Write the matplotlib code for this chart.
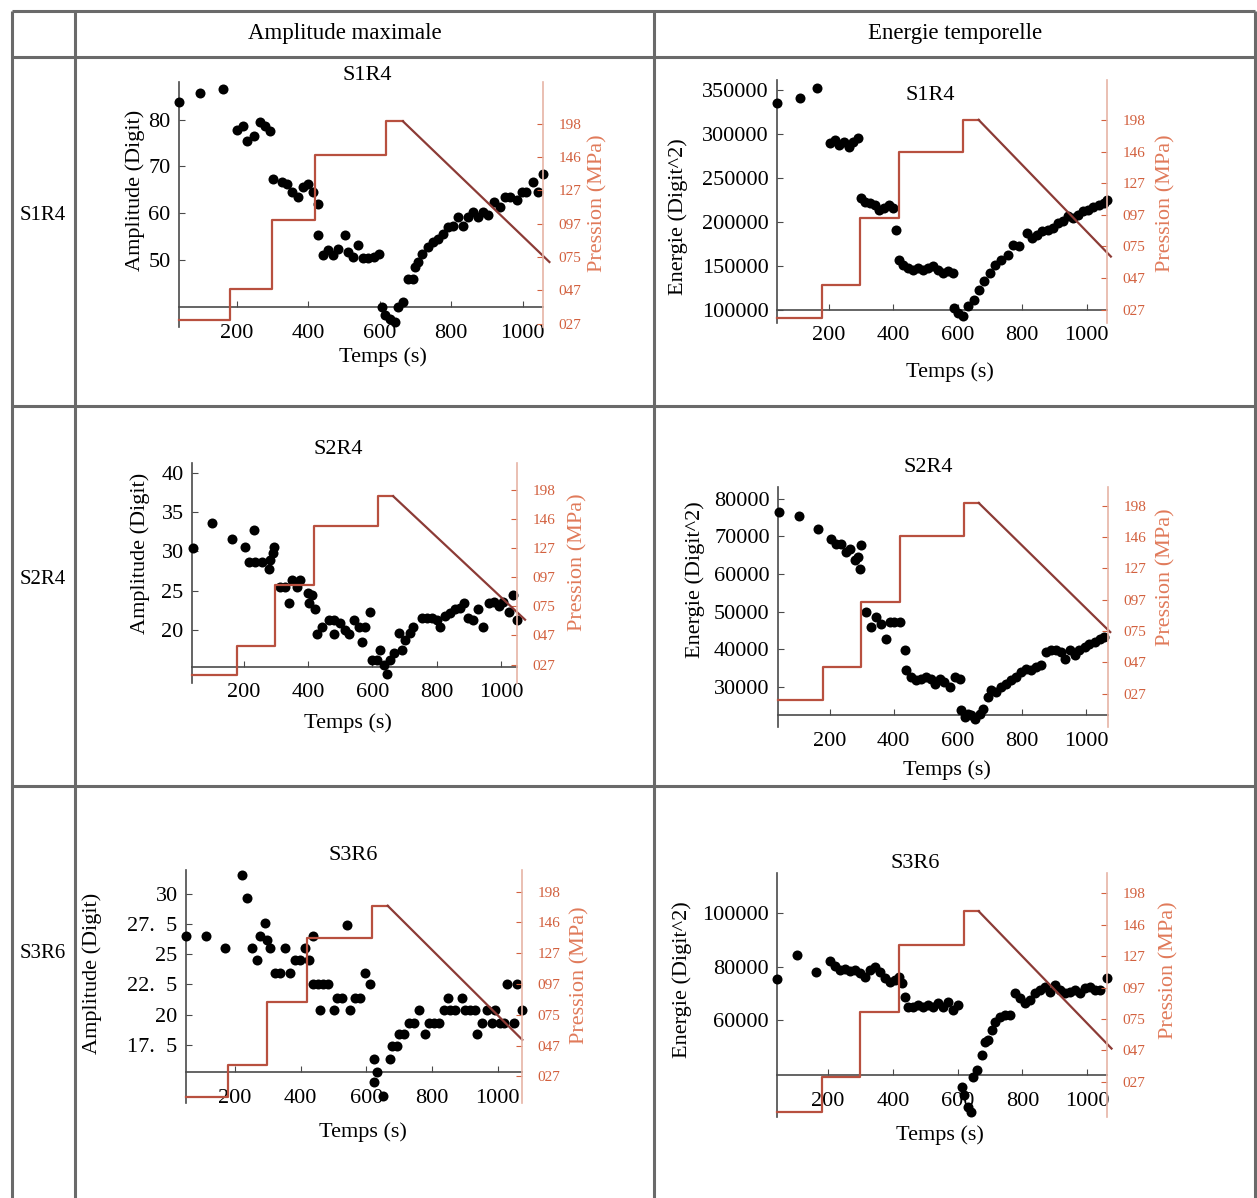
import matplotlib
matplotlib.use("Agg")
import matplotlib.pyplot as plt

plt.rcParams['font.family'] = ['Liberation Serif', 'DejaVu Serif']

W, H = 1257, 1198

# ---- data ----
PRESSURE_LABELS = ['027', '047', '075', '097', '127', '146', '198']
# time of the pressure steps (s), same loading for every test
PRESSURE_T = [40, 180, 180, 297, 297, 418, 418, 618, 618, 665, 1075]

# S1R4 - amplitude
S1R4_AMP_T = [38, 96, 160, 199, 218, 227, 248, 264, 278, 294, 302, 325, 339, 353, 370, 384,
              400, 413, 427, 427, 440, 455, 469, 483, 502, 511, 525, 539, 553, 567, 583, 597,
              605, 614, 628, 642, 651, 665, 679, 694, 698, 707, 719, 735, 749, 763, 777, 791,
              805, 819, 833, 847, 861, 875, 889, 903, 921, 936, 950, 964, 983, 997, 1010, 1029,
              1043, 1057]
S1R4_AMP = [83.7, 85.7, 86.5, 77.7, 78.7, 75.5, 76.6, 79.4, 78.7, 77.5, 67.4, 66.7, 66.3, 64.5,
            63.5, 65.6, 66.3, 64.5, 62.1, 55.3, 51.1, 52.1, 51.1, 52.5, 55.3, 51.8, 50.7, 53.2,
            50.4, 50.4, 50.7, 51.4, 40.1, 38.3, 37.6, 36.9, 40.1, 41.1, 46.1, 46.1, 48.6, 49.6,
            51.4, 52.8, 53.9, 54.6, 55.7, 57.1, 57.4, 59.2, 57.4, 59.2, 60.3, 59.2, 60.3, 59.6,
            62.4, 61.3, 63.5, 63.5, 62.8, 64.5, 64.5, 66.7, 64.5, 68.4]
S1R4_P = [0.1, 1.05, 3.1, 5.07, 6.07, 1.85]

# S1R4 - energie
S1R4_ENE_T = [40, 110, 165, 205, 219, 233, 248, 262, 276, 290, 300, 314, 329, 343, 357, 371,
              386, 400, 410, 418, 431, 446, 462, 477, 492, 508, 523, 539, 554, 569, 585, 590,
              600, 617, 633, 650, 667, 683, 700, 717, 733, 756, 772, 789, 816, 832, 847, 863,
              879, 895, 911, 926, 942, 958, 974, 989, 1005, 1021, 1037, 1053, 1063]
S1R4_ENE = [334900, 340500, 351900, 289400, 293200, 287500, 291300, 285600, 291300, 295100,
            226900, 223100, 221200, 219300, 213600, 215500, 219300, 215500, 190900, 156800,
            151100, 147300, 145500, 147300, 145500, 147300, 149200, 145500, 141700, 143600,
            141700, 101900, 96200, 92400, 103800, 111400, 122700, 132200, 141700, 151100,
            156800, 162500, 173900, 172000, 187100, 181400, 185200, 189000, 190900, 192800,
            198500, 200400, 206100, 204200, 208000, 211800, 213700, 217400, 219300, 221200,
            225000]
S1R4_ENE_P = [-0.26, 0.79, 2.9, 4.97, 6.0, 1.68]

# S2R4 - amplitude
S2R4_AMP_T = [42, 102, 162, 205, 233, 216, 236, 257, 278, 283, 291, 295, 314, 329, 340, 350,
              366, 376, 399, 412, 402, 423, 428, 444, 464, 480, 480, 500, 516, 526, 542, 557,
              568, 578, 594, 599, 615, 625, 635, 646, 656, 666, 682, 692, 702, 718, 728, 754,
              770, 785, 801, 811, 827, 842, 858, 874, 884, 899, 914, 930, 944, 962, 977, 993,
              1008, 1024, 1039, 1050]
S2R4_AMP = [30.4, 33.6, 31.6, 30.6, 32.8, 28.6, 28.6, 28.6, 27.7, 28.9, 29.8, 30.6, 25.5, 25.5,
            23.4, 26.4, 25.5, 26.4, 24.7, 24.5, 23.4, 22.6, 19.4, 20.4, 21.3, 19.4, 21.3, 20.9,
            20.0, 19.4, 21.3, 20.4, 18.5, 20.4, 22.3, 16.2, 16.2, 17.4, 15.5, 14.3, 16.2, 17.0,
            19.6, 17.4, 18.7, 19.6, 20.4, 21.5, 21.5, 21.5, 21.3, 20.4, 21.7, 22.1, 22.6, 22.8,
            23.4, 21.5, 21.3, 22.6, 20.4, 23.4, 23.6, 23.0, 23.6, 22.3, 24.5, 21.3]
S2R4_P = [-0.34, 0.65, 2.74, 4.74, 5.77, 1.54]

# S2R4 - energie
S2R4_ENE_T = [42, 104, 164, 205, 221, 236, 252, 265, 278, 288, 294, 299, 314, 330, 345, 361,
              376, 387, 402, 418, 434, 439, 455, 470, 486, 501, 517, 527, 543, 558, 574, 590,
              605, 610, 621, 631, 642, 652, 668, 678, 694, 704, 720, 735, 751, 766, 782, 797,
              813, 829, 844, 860, 875, 891, 906, 922, 933, 948, 964, 979, 995, 1010, 1026, 1042,
              1057]
S2R4_ENE = [76460, 75300, 72000, 69400, 68000, 68000, 65800, 66700, 63600, 64500, 61400, 67600,
            49900, 45900, 48600, 46800, 42800, 47300, 47300, 47300, 39700, 34400, 32700, 31800,
            32200, 32700, 32200, 30900, 32200, 31300, 30000, 32700, 32200, 23800, 22000, 22900,
            22500, 21600, 22900, 24200, 27300, 29100, 28700, 30000, 30900, 31800, 32700, 34000,
            34900, 34400, 35300, 35800, 39300, 39700, 39700, 39300, 37500, 39700, 38400, 39700,
            40600, 41500, 41900, 42800, 43300]
S2R4_ENE_P = [-0.21, 0.85, 2.93, 5.05, 6.09, 1.97]

# S3R6 - amplitude
S3R6_AMP_T = [51, 112, 170, 220, 236, 251, 266, 276, 291, 297, 307, 322, 337, 352, 368, 383,
              398, 413, 427, 439, 439, 454, 469, 484, 459, 503, 510, 526, 541, 551, 566, 582,
              597, 610, 622, 624, 632, 652, 673, 678, 693, 698, 714, 729, 744, 759, 779, 790,
              805, 820, 835, 850, 855, 871, 891, 901, 916, 931, 937, 952, 967, 983, 993, 1008,
              1018, 1028, 1049, 1059, 1074]
S3R6_AMP = [26.5, 26.5, 25.5, 31.5, 29.6, 25.5, 24.5, 26.5, 27.6, 26.2, 25.5, 23.4, 23.4, 25.5,
            23.4, 24.5, 24.5, 25.5, 24.5, 26.5, 22.5, 22.5, 22.5, 22.5, 20.4, 20.4, 21.4, 21.4,
            27.4, 20.4, 21.4, 21.4, 23.4, 22.5, 14.4, 16.3, 15.3, 13.3, 16.3, 17.4, 17.4, 18.4,
            18.4, 19.3, 19.3, 20.4, 18.4, 19.3, 19.3, 19.3, 20.4, 21.4, 20.4, 20.4, 21.4, 20.4,
            20.4, 20.4, 18.4, 19.3, 20.4, 19.3, 20.4, 19.3, 19.3, 22.5, 19.3, 22.5, 20.4]
S3R6_P = [-0.65, 0.38, 2.43, 4.5, 5.54, 1.19]

# S3R6 - energie
S3R6_ENE_T = [42, 104, 162, 205, 221, 236, 252, 267, 282, 298, 313, 329, 344, 360, 375, 391,
              406, 420, 427, 437, 447, 463, 478, 494, 509, 525, 540, 556, 571, 587, 602, 612,
              620, 633, 640, 648, 659, 674, 684, 695, 705, 715, 730, 746, 762, 777, 792, 808,
              823, 839, 854, 870, 885, 901, 916, 932, 947, 962, 978, 994, 1009, 1025, 1040, 1061]
S3R6_ENE = [75400, 84400, 78100, 82100, 80250, 78750, 79000, 78400, 78750, 77750, 76250, 78750,
            80000, 78100, 75600, 74400, 75000, 76250, 74000, 68750, 65000, 65000, 65600, 65000,
            65600, 65000, 66250, 65000, 66900, 63750, 65600, 35000, 31900, 27500, 25600, 38750,
            41250, 46900, 51900, 52500, 56250, 59400, 61250, 61900, 61900, 70000, 68100, 66250,
            67500, 70000, 71250, 72500, 70600, 73100, 71250, 70000, 70600, 71250, 70000, 71900,
            72500, 71250, 71250, 75600]
S3R6_ENE_P = [-0.96, 0.16, 2.23, 4.36, 5.43, 1.06]

AMP_LABEL = 'Amplitude (Digit)'
ENE_LABEL = 'Energie (Digit^2)'

# ---- layout of the six panels (pixel boxes of the scanned table) ----
panels = [
    dict(title='S1R4', t=S1R4_AMP_T, v=S1R4_AMP, p=S1R4_P, ylab=AMP_LABEL,
         box=(179, 82, 543, 327), xlim=(38, 1057), ylim=(35.8, 88.0), y0=40,
         yt=[50, 60, 70, 80], ytl=['50', '60', '70', '80'], rlim=(-0.1, 7.25),
         tpos=(367, 75), ypos=(135, 190), xpos=(383, 357), ppos=(598, 203)),
    dict(title='S1R4', t=S1R4_ENE_T, v=S1R4_ENE, p=S1R4_ENE_P, ylab=ENE_LABEL,
         box=(777, 80, 1107, 323), xlim=(40, 1063), ylim=(84850, 361400), y0=100000,
         yt=[100000, 150000, 200000, 250000, 300000, 350000],
         ytl=['100000', '150000', '200000', '250000', '300000', '350000'], rlim=(-0.42, 7.26),
         tpos=(930, 95), ypos=(678, 217), xpos=(950, 372), ppos=(1166, 203)),
    dict(title='S2R4', t=S2R4_AMP_T, v=S2R4_AMP, p=S2R4_P, ylab=AMP_LABEL,
         box=(192, 463, 517, 683), xlim=(39, 1050), ylim=(13.2, 41.3), y0=15.3,
         yt=[20, 25, 30, 35, 40], ytl=['20', '25', '30', '35', '40'], rlim=(-0.63, 6.91),
         tpos=(338, 450), ypos=(140, 553), xpos=(348, 723), ppos=(578, 562)),
    dict(title='S2R4', t=S2R4_ENE_T, v=S2R4_ENE, p=S2R4_ENE_P, ylab=ENE_LABEL,
         box=(778, 487, 1108, 727), xlim=(39, 1068), ylim=(19380, 83100), y0=22480,
         yt=[30000, 40000, 50000, 60000, 70000, 80000],
         ytl=['30000', '40000', '50000', '60000', '70000', '80000'], rlim=(-1.06, 6.6),
         tpos=(928, 468), ypos=(695, 580), xpos=(947, 770), ppos=(1166, 577)),
    dict(title='S3R6', t=S3R6_AMP_T, v=S3R6_AMP, p=S3R6_P, ylab=AMP_LABEL,
         box=(186, 870, 522, 1103), xlim=(51, 1074), ylim=(12.7, 31.95), y0=15.25,
         yt=[17.5, 20, 22.5, 25, 27.5, 30],
         ytl=['17.  5', '20', '22.  5', '25', '27.  5', '30'], rlim=(-0.86, 6.70),
         tpos=(353, 855), ypos=(92, 973), xpos=(363, 1132), ppos=(580, 975)),
    dict(title='S3R6', t=S3R6_ENE_T, v=S3R6_ENE, p=S3R6_ENE_P, ylab=ENE_LABEL,
         box=(777, 873, 1107, 1117), xlim=(42, 1061), ylim=(23750, 115000), y0=39400,
         yt=[60000, 80000, 100000], ytl=['60000', '80000', '100000'], rlim=(-1.12, 6.65),
         tpos=(915, 863), ypos=(682, 980), xpos=(940, 1135), ppos=(1169, 970)),
]

AXIS_COL = '#4a4a4a'
STEP_COL = '#b8503f'
DROP_COL = '#8c3b36'
PTICK_COL = '#d2603e'
PLABEL_COL = '#e07a5a'
FS = 16

fig = plt.figure(figsize=(W / 100, H / 100), dpi=100)

# background layer in pixel coordinates: table grid and free texts
bg = fig.add_axes([0, 0, 1, 1])
bg.set_xlim(0, W)
bg.set_ylim(H, 0)
bg.axis('off')

grid = dict(color='#6a6a6a', lw=2.2, solid_capstyle='butt')
for yy in [11, 57, 406, 786]:
    bg.plot([12, 1255], [yy, yy], **grid)
for xx in [12, 75, 654, 1255]:
    bg.plot([xx, xx], [11, H], **grid)

bg.text(345, 34, 'Amplitude maximale', ha='center', va='center', fontsize=16.5)
bg.text(955, 34, 'Energie temporelle', ha='center', va='center', fontsize=16.5)
for lab, yy in [('S1R4', 215), ('S2R4', 580), ('S3R6', 953)]:
    bg.text(43, yy, lab, ha='center', va='center', fontsize=15)


def step_levels(lv):
    return [lv[0], lv[0], lv[1], lv[1], lv[2], lv[2], lv[3], lv[3], lv[4], lv[4], lv[5]]


for pn in panels:
    l, t, r, b = pn['box']
    ax = fig.add_axes([l / W, 1 - b / H, (r - l) / W, (b - t) / H])
    ax.set_facecolor('none')
    ax.scatter(pn['t'], pn['v'], s=52, color='black', clip_on=False, zorder=3, linewidths=0)
    ax.set_xlim(*pn['xlim'])
    ax.set_ylim(*pn['ylim'])
    ax.spines['top'].set_visible(False)
    ax.spines['right'].set_visible(False)
    ax.spines['bottom'].set_position(('data', pn['y0']))
    for s in ['left', 'bottom']:
        ax.spines[s].set_color(AXIS_COL)
        ax.spines[s].set_linewidth(1.2)
    ax.set_xticks([200, 400, 600, 800, 1000], labels=['200', '400', '600', '800', '1000'])
    ax.set_yticks(pn['yt'], labels=pn['ytl'])
    ax.tick_params(axis='x', direction='in', length=4, pad=12, labelsize=FS, color=AXIS_COL)
    ax.tick_params(axis='y', direction='in', length=4, pad=6, labelsize=FS, color=AXIS_COL)

    ax2 = ax.twinx()
    ax2.set_ylim(*pn['rlim'])
    xs = [pn['xlim'][0]] + PRESSURE_T[1:]
    ys = step_levels(pn['p'])
    # loading steps, then the unloading ramp in a darker tone
    ax2.plot(xs[:-1], ys[:-1], color=STEP_COL, lw=1.6, clip_on=False)
    ax2.plot(xs[-2:], ys[-2:], color=DROP_COL, lw=1.6, clip_on=False)
    ax2.set_xlim(*pn['xlim'])
    for s in ['left', 'top', 'bottom']:
        ax2.spines[s].set_visible(False)
    ax2.spines['right'].set_color('#e6b4a6')
    ax2.spines['right'].set_linewidth(1.2)
    ax2.set_yticks(range(len(PRESSURE_LABELS)), labels=PRESSURE_LABELS)
    ax2.tick_params(axis='y', direction='in', length=4, pad=11, labelsize=11,
                    colors=PTICK_COL)

    bg.text(*pn['tpos'], pn['title'], ha='center', va='center', fontsize=FS)
    bg.text(*pn['ypos'], pn['ylab'], ha='center', va='center', rotation=90, fontsize=FS)
    bg.text(*pn['xpos'], 'Temps (s)', ha='center', va='center', fontsize=FS)
    bg.text(*pn['ppos'], 'Pression (MPa)', ha='center', va='center', rotation=90,
            fontsize=FS, color=PLABEL_COL)

fig.savefig('out.png', dpi=100)
